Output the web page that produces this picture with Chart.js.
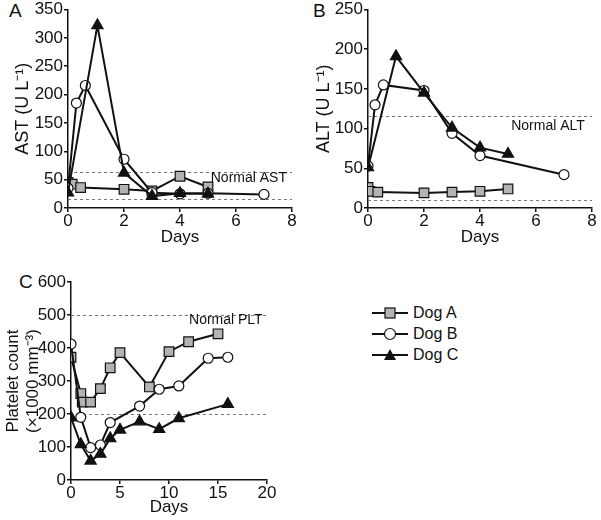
<!DOCTYPE html>
<html>
<head>
<meta charset="utf-8">
<script src="https://cdn.jsdelivr.net/npm/chart.js@4.4.1/dist/chart.umd.min.js"></script>
<style>
body { margin: 0; background: #fff; width: 601px; height: 520px; position: relative; overflow: hidden; font-family: "Liberation Sans", Arial, sans-serif; color: #111; }
canvas { position: absolute; }
.panel { position: absolute; font-size: 19px; }
.legend { position: absolute; left: 372px; top: 302px; font-size: 16px; }
.legend div { height: 21px; display: flex; align-items: center; }
.legend svg { margin-right: 5px; }
</style>
</head>
<body>
<div class="panel" style="left:9px;top:0px">A</div>
<div class="panel" style="left:313px;top:0px">B</div>
<div class="panel" style="left:19px;top:271px">C</div>
<canvas id="chartA" width="300" height="250" style="left:0;top:0"></canvas>
<canvas id="chartB" width="301" height="250" style="left:300px;top:0"></canvas>
<canvas id="chartC" width="300" height="250" style="left:0;top:270px"></canvas>
<div class="legend">
  <div><svg width="36" height="14"><line x1="0" y1="7" x2="36" y2="7" stroke="#111" stroke-width="2"/><rect x="13" y="2" width="10" height="10" fill="#b3b3b3" stroke="#111" stroke-width="1.2"/></svg>Dog A</div>
  <div><svg width="36" height="14"><line x1="0" y1="7" x2="36" y2="7" stroke="#111" stroke-width="2"/><circle cx="18" cy="7" r="5.5" fill="#fff" stroke="#111" stroke-width="1.2"/></svg>Dog B</div>
  <div><svg width="36" height="14"><line x1="0" y1="7" x2="36" y2="7" stroke="#111" stroke-width="2"/><polygon points="18,1 24,12 12,12" fill="#111"/></svg>Dog C</div>
</div>
<script>
// PANEL A - AST
const astDaysA = [0, 0.15, 0.45, 2, 3, 4, 5];
const astA = [45, 42, 36, 33, 30, 56, 37];
const astDaysB = [0, 0.3, 0.62, 2, 3, 4, 5, 7];
const astB = [35, 185, 216, 86, 27, 25, 26, 24];
const astDaysC = [0, 1.05, 2, 3, 4, 5];
const astC = [27, 322, 62, 21, 26, 25];
const astNormal = [15, 64];

// PANEL B - ALT
const altDaysA = [0, 0.07, 0.35, 2, 3, 4, 5];
const altA = [26, 21, 20, 19, 20, 21, 24];
const altDaysB = [0, 0.25, 0.55, 2, 3, 4, 7];
const altB = [53, 130, 155, 148, 94, 66, 42];
const altDaysC = [0, 1, 2, 3, 4, 5];
const altC = [51, 191, 145, 101, 76, 68];
const altNormal = [10, 116];

// PANEL C - PLATELETS
const pltDaysA = [0, 1, 1.15, 2, 3, 4, 5, 8, 10, 12, 15];
const pltA = [372, 262, 236, 236, 277, 340, 386, 282, 389, 419, 443];
const pltDaysB = [0, 1, 2, 3, 4, 7, 9, 11, 14, 16];
const pltB = [412, 190, 98, 106, 174, 224, 275, 285, 369, 372];
const pltDaysC = [0, 1, 2, 3, 4, 5, 7, 9, 11, 16];
const pltC = [189, 108, 58, 79, 126, 152, 177, 154, 187, 230];
const pltNormal = [200, 500];

const FONT = '"Liberation Sans", Arial, sans-serif';
Chart.defaults.font.family = FONT;
Chart.defaults.color = '#111';

function pts(xs, ys) {
    return xs.map((x, i) => ({ x: x, y: ys[i] }));
}

// dashed normal range + its label
const normalPlugin = {
    id: 'normal',
    beforeDatasetsDraw(chart) {
        const o = chart.options.plugins.normal;
        const { ctx, chartArea } = chart;
        const x = chart.scales.x, y = chart.scales.y;
        ctx.save();
        ctx.strokeStyle = '#777';
        ctx.lineWidth = 1;
        ctx.setLineDash([3, 3]);
        for (const v of o.values) {
            const py = Math.round(y.getPixelForValue(v)) + 0.5;
            ctx.beginPath();
            ctx.moveTo(chartArea.left, py);
            ctx.lineTo(chartArea.right, py);
            ctx.stroke();
        }
        ctx.setLineDash([]);
        ctx.fillStyle = '#111';
        ctx.font = '14px ' + FONT;
        ctx.textAlign = 'center';
        ctx.textBaseline = 'middle';
        ctx.fillText(o.label, x.getPixelForValue(o.at[0]), y.getPixelForValue(o.at[1]));
        ctx.restore();
    }
};

function dogSets(a, b, c) {
    const line = { showLine: true, borderColor: '#111', borderWidth: 2, pointBorderColor: '#111', pointBorderWidth: 1.2 };
    return [
        Object.assign({ label: 'Dog C', data: c, pointStyle: 'triangle', pointRadius: 6.5, backgroundColor: '#111', order: 0 }, line),
        Object.assign({ label: 'Dog B', data: b, pointStyle: 'circle', pointRadius: 5, backgroundColor: '#fff', order: 1 }, line),
        Object.assign({ label: 'Dog A', data: a, pointStyle: 'rect', pointRadius: 6.8, backgroundColor: '#b3b3b3', order: 2 }, line)
    ];
}

function axis(max, step, fit, title) {
    return {
        type: 'linear', min: 0, max: max,
        ticks: { stepSize: step, padding: 1, font: { size: 17, lineHeight: 1 }, color: '#111' },
        grid: { drawOnChartArea: false, drawTicks: true, tickLength: 4, color: '#111', lineWidth: 1.5 },
        border: { color: '#111', width: 1.5 },
        title: title,
        afterFit: fit
    };
}

function makeChart(id, sets, xMax, xStep, yMax, yStep, yTitle, yWidth, xHeight, pad, normal) {
    new Chart(document.getElementById(id), {
        type: 'scatter',
        data: { datasets: sets },
        options: {
            responsive: false,
            animation: false,
            layout: { padding: pad },
            plugins: { legend: { display: false }, tooltip: { enabled: false }, normal: normal },
            scales: {
                x: axis(xMax, xStep, s => { s.height = xHeight; },
                    { display: true, text: 'Days', font: { size: 17 }, color: '#111', padding: { top: 0, bottom: 2 } }),
                y: axis(yMax, yStep, s => { s.width = yWidth; }, yTitle)
            }
        },
        plugins: [normalPlugin]
    });
}

makeChart('chartA', dogSets(pts(astDaysA, astA), pts(astDaysB, astB), pts(astDaysC, astC)),
    8, 2, 350, 50,
    { display: true, text: 'AST (U L\u207B\u00B9)', font: { size: 18 }, color: '#111', padding: { top: 12, bottom: 0 } },
    68, 42, { top: 7, right: 8, left: 0, bottom: 0 },
    { values: astNormal, label: 'Normal AST', at: [6.46, 52] });

makeChart('chartB', dogSets(pts(altDaysA, altA), pts(altDaysB, altB), pts(altDaysC, altC)),
    8, 2, 250, 50,
    { display: true, text: 'ALT (U L\u207B\u00B9)', font: { size: 18 }, color: '#111', padding: { top: 13, bottom: 0 } },
    68, 42, { top: 7, right: 9, left: 0, bottom: 0 },
    { values: altNormal, label: 'Normal ALT', at: [6.43, 103] });

makeChart('chartC', dogSets(pts(pltDaysA, pltA), pts(pltDaysB, pltB), pts(pltDaysC, pltC)),
    20, 5, 600, 100,
    { display: true, text: ['Platelet count', '(\u00D71000 mm\u207B\u00B3)'], font: { size: 17, lineHeight: 1.2 }, color: '#111', padding: { top: 3, bottom: 0 } },
    71, 40, { top: 12, right: 33, left: 0, bottom: 0 },
    { values: pltNormal, label: 'Normal PLT', at: [15.8, 483] });
</script>
</body>
</html>
